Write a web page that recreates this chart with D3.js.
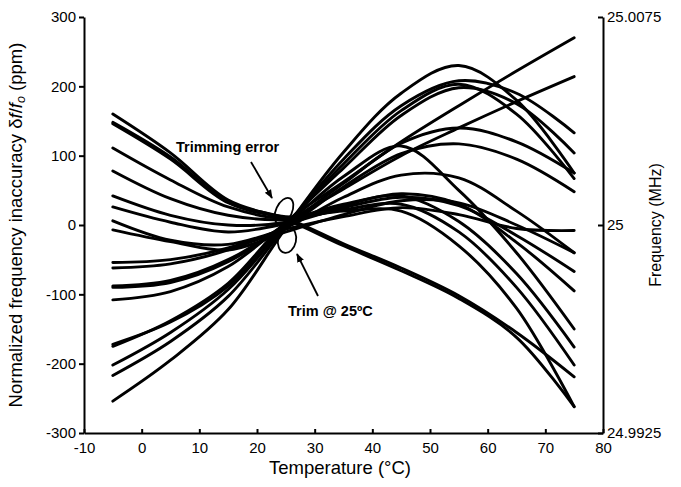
<!DOCTYPE html>
<html>
<head>
<meta charset="utf-8">
<script src="https://cdn.jsdelivr.net/npm/d3@7"></script>
<style>
    body { margin: 0; background: #fff; }
    text { font-family: "Liberation Sans", Arial, Helvetica, sans-serif; }
</style>
</head>
<body>
<svg id="chart" width="681" height="487"></svg>
<script>
// temperatures where every curve was read (°C)
const temps = [-5, 5, 15, 25, 35, 45, 55, 65, 75];

// rising curves (ppm)
const p1 = [-254, -195, -122, -4, 105, 190, 230, 180, 75];
const p2 = [-217, -168, -103, -2, 95, 172, 208, 190, 133];
const p3 = [-202, -155, -93, 0, 88, 165, 203, 160, 67];
const p4 = [-172, -140, -88, 2, 82, 158, 198, 175, 104];
const r1 = [-175, -138, -84, 4, 62, 120, 172, 222, 270];
const r2 = [-108, -96, -60, 2, 52, 100, 140, 178, 214];
const m1 = [-90, -83, -53, 0, 60, 118, 140, 120, 75];
const m2 = [-62, -56, -36, -2, 55, 103, 117, 95, 48];
const m3 = [-54, -50, -33, -4, 40, 72, 68, 20, -40];
const m4 = [-88, -80, -50, 2, 70, 114, 50, -40, -150];

// falling curves (ppm)
const d1 = [160, 104, 36, 8, -30, -66, -106, -162, -262];
const d2 = [148, 98, 33, 10, -27, -62, -102, -155, -219];
const d3c = [146, 95, 32, 12, 20, 20, -30, -120, -262];
const d4 = [111, 65, 26, 10, 30, 42, 5, -70, -176];
const d5 = [78, 38, 14, 8, 22, 30, -10, -90, -202];
const d6 = [42, 14, 0, 4, 28, 45, 30, -25, -95];
const d7 = [26, 4, -10, 2, 25, 40, 28, -15, -67];
const d8 = [6, -22, -28, -6, 12, 25, 15, -5, -8];
const d9 = [-7, -24, -36, -10, 15, 35, 32, 0, -40];

const series = [p1, p2, p3, p4, r1, r2, m1, m2, m3, m4, d1, d2, d3c, d4, d5, d6, d7, d8, d9];

// axis ticks
const xTicks = [-10, 0, 10, 20, 30, 40, 50, 60, 70, 80];
const yTicks = [-300, -200, -100, 0, 100, 200, 300];
const fTicks = [24.9925, 25, 25.0075];

const svg = d3.select('#chart');

// plot box
const box = { l: 84, r: 603, t: 17, b: 433 };

const x = d3.scaleLinear().domain([-10, 80]).range([box.l, box.r]);
const y = d3.scaleLinear().domain([-300, 300]).range([box.b, box.t]);
const yf = d3.scaleLinear().domain([24.9925, 25.0075]).range([box.b, box.t]);

// curves
const line = d3.line()
    .x((d, i) => x(temps[i]))
    .y(d => y(d))
    .curve(d3.curveCatmullRom.alpha(0.5));

svg.append('g')
    .selectAll('path')
    .data(series)
    .join('path')
    .attr('d', line)
    .attr('fill', 'none')
    .attr('stroke', '#000')
    .attr('stroke-width', 2.9)
    .attr('stroke-linecap', 'round');

// axes
const styleAxis = g => {
    g.select('.domain').attr('stroke-width', 2);
    g.selectAll('.tick line').attr('stroke-width', 2);
    g.selectAll('.tick text').attr('font-size', 15).attr('fill', '#000');
};

svg.append('g')
    .attr('transform', `translate(0,${box.b})`)
    .call(d3.axisBottom(x).tickValues(xTicks).tickFormat(d => String(d))
        .tickSizeInner(-4).tickSizeOuter(0).tickPadding(9))
    .call(styleAxis);

svg.append('g')
    .attr('transform', `translate(${box.l},0)`)
    .call(d3.axisLeft(y).tickValues(yTicks).tickFormat(d => String(d))
        .tickSizeInner(5).tickSizeOuter(0).tickPadding(3))
    .call(styleAxis);

svg.append('g')
    .attr('transform', `translate(${box.r},0)`)
    .call(d3.axisRight(yf).tickValues(fTicks).tickFormat(d => String(d))
        .tickSizeInner(-5).tickSizeOuter(0).tickPadding(4))
    .call(styleAxis);

// axis titles
svg.append('text')
    .attr('x', 340).attr('y', 474)
    .attr('text-anchor', 'middle').attr('font-size', 18.5)
    .text('Temperature (°C)');

const yl = svg.append('text')
    .attr('transform', `translate(22,${(box.t + box.b) / 2}) rotate(-90)`)
    .attr('text-anchor', 'middle').attr('font-size', 18.5);
yl.append('tspan').text('Normalized frequency inaccuracy δ');
yl.append('tspan').attr('font-style', 'italic').text('f');
yl.append('tspan').text('/');
yl.append('tspan').attr('font-style', 'italic').text('f');
yl.append('tspan').attr('font-style', 'italic').attr('font-size', 12.5).attr('dy', 3).text('o');
yl.append('tspan').attr('dy', -3).text(' (ppm)');

svg.append('text')
    .attr('transform', `translate(661,${(box.t + box.b) / 2}) rotate(-90)`)
    .attr('text-anchor', 'middle').attr('font-size', 16)
    .text('Frequency (MHz)');

// annotations
svg.append('defs').append('marker')
    .attr('id', 'head').attr('viewBox', '0 0 10 10')
    .attr('refX', 9).attr('refY', 5)
    .attr('markerWidth', 9).attr('markerHeight', 9)
    .attr('markerUnits', 'userSpaceOnUse')
    .attr('orient', 'auto')
    .append('path').attr('d', 'M0,1 L10,5 L0,9 Z').attr('fill', '#000');

const note = (tx, ty, label, ax1, ay1, ax2, ay2) => {
    svg.append('text').attr('x', tx).attr('y', ty)
        .attr('font-size', 14.5).attr('font-weight', 'bold').text(label);
    svg.append('line')
        .attr('x1', ax1).attr('y1', ay1).attr('x2', ax2).attr('y2', ay2)
        .attr('stroke', '#000').attr('stroke-width', 1.8)
        .attr('marker-end', 'url(#head)');
};
note(176, 152, 'Trimming error', 251, 162, 272, 198);
note(288, 316, 'Trim @ 25ºC', 318, 296, 297, 254);

const ring = (cx, cy, rx, ry, rot) => {
    svg.append('ellipse')
        .attr('cx', cx).attr('cy', cy).attr('rx', rx).attr('ry', ry)
        .attr('transform', `rotate(${rot},${cx},${cy})`)
        .attr('fill', 'none').attr('stroke', '#000').attr('stroke-width', 1.8);
};
ring(284, 211, 8, 14, 25);
ring(287, 240, 9, 13, 12);
</script>
</body>
</html>
